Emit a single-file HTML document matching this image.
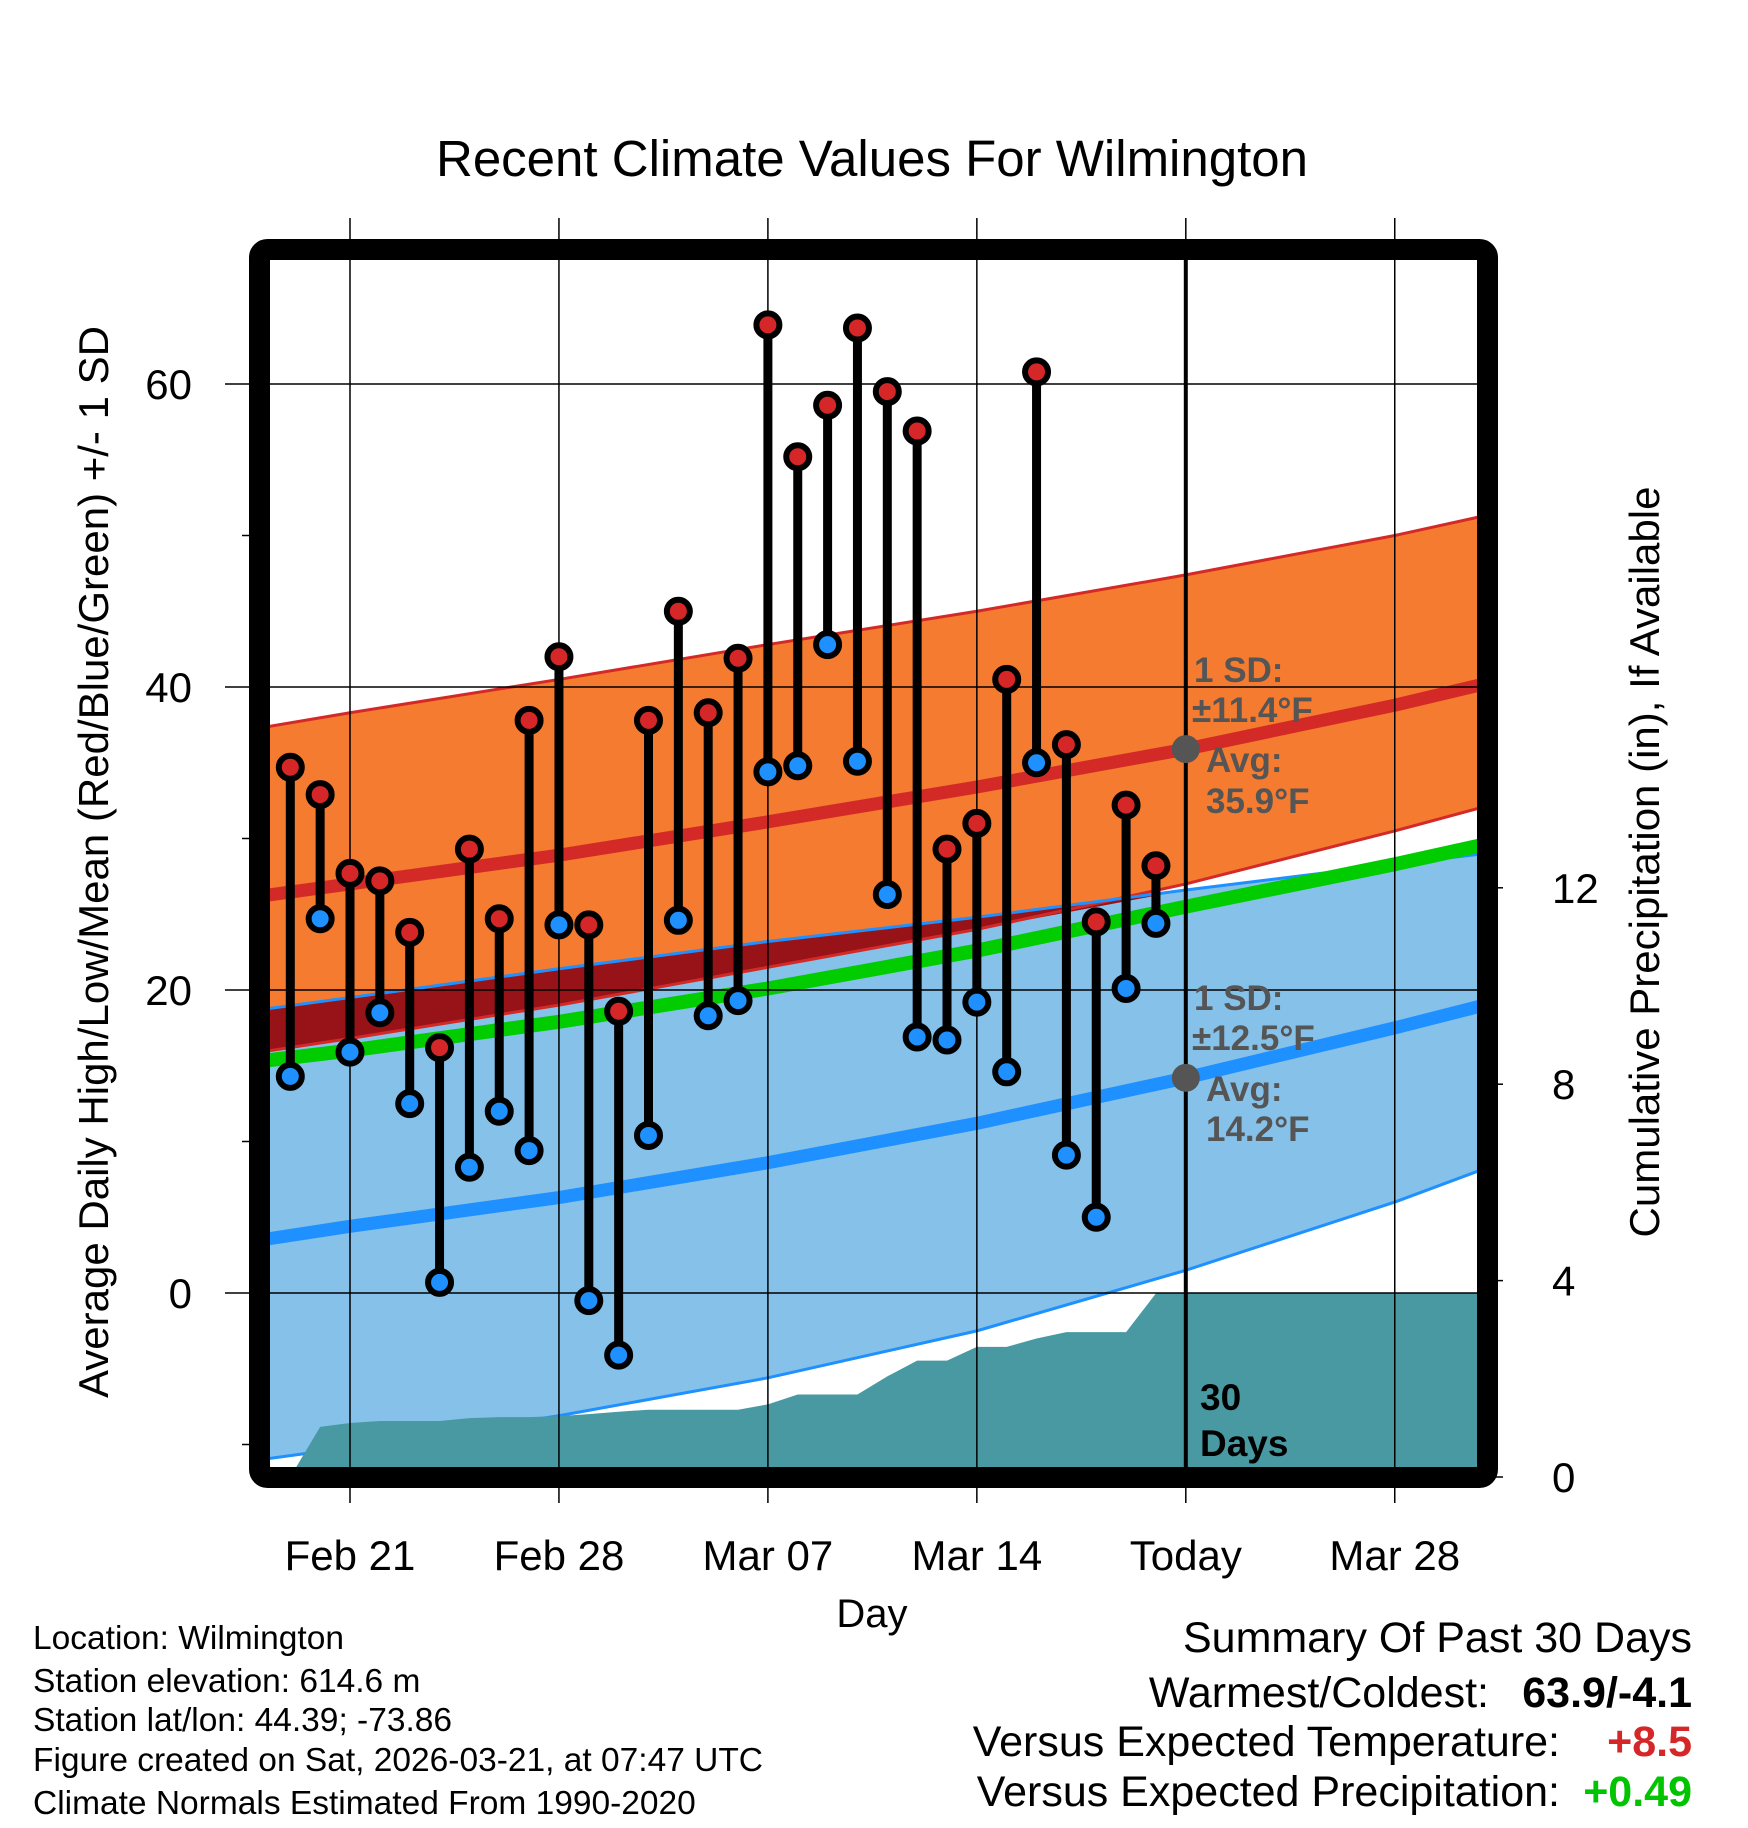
<!DOCTYPE html>
<html><head><meta charset="utf-8"><style>
html,body{margin:0;padding:0;background:#fff;}
svg{display:block;font-family:"Liberation Sans",Arial,sans-serif;}
</style></head><body>
<svg id="chart" width="1748" height="1828" viewBox="0 0 1748 1828" xmlns="http://www.w3.org/2000/svg">
<defs><clipPath id="plotclip"><rect x="270" y="260" width="1208" height="1208"/></clipPath></defs>
<text x="872" y="176" font-size="51" text-anchor="middle">Recent Climate Values For Wilmington</text>
<g id="bands" clip-path="url(#plotclip)"></g>
<g id="grid"></g>
<g id="marks"></g>
<rect x="259.5" y="249.5" width="1228" height="1228" rx="8" fill="none" stroke="#000" stroke-width="21"/>
<g id="axes"></g>
<g id="ann" font-weight="bold" fill="#555" font-size="35">
<text x="1194" y="682">1 SD:</text>
<text x="1192" y="722">±11.4°F</text>
<text x="1206" y="772">Avg:</text>
<text x="1206" y="813">35.9°F</text>
<text x="1194" y="1010">1 SD:</text>
<text x="1192" y="1050">±12.5°F</text>
<text x="1206" y="1101">Avg:</text>
<text x="1206" y="1141">14.2°F</text>
</g>
<text x="1200" y="1410" font-size="37" font-weight="bold">30</text>
<text x="1200" y="1456" font-size="37" font-weight="bold">Days</text>
<text x="872" y="1627" font-size="40" text-anchor="middle">Day</text>
<text transform="translate(108,862) rotate(-90)" font-size="42" text-anchor="middle">Average Daily High/Low/Mean (Red/Blue/Green) +/- 1 SD</text>
<text transform="translate(1659,862) rotate(-90)" font-size="42" text-anchor="middle">Cumulative Precipitation (in), If Available</text>
<g font-size="33.5">
<text x="33" y="1649">Location: Wilmington</text>
<text x="33" y="1692">Station elevation: 614.6 m</text>
<text x="33" y="1731">Station lat/lon: 44.39; -73.86</text>
<text x="33" y="1771">Figure created on Sat, 2026-03-21, at 07:47 UTC</text>
<text x="33" y="1814">Climate Normals Estimated From 1990-2020</text>
</g>
<g font-size="43">
<text x="1692" y="1652" text-anchor="end">Summary Of Past 30 Days</text>
<text x="1489" y="1707" text-anchor="end">Warmest/Coldest:</text>
<text x="1692" y="1707" text-anchor="end" font-weight="bold">63.9/-4.1</text>
<text x="1560" y="1756" text-anchor="end">Versus Expected Temperature:</text>
<text x="1692" y="1756" text-anchor="end" font-weight="bold" fill="#d62728">+8.5</text>
<text x="1560" y="1806" text-anchor="end">Versus Expected Precipitation:</text>
<text x="1692" y="1806" text-anchor="end" font-weight="bold" fill="#00c400">+0.49</text>
</g>
</svg>
<script>
// Daily observations (day 0 = Feb 21)
const obsDays = [-2,-1,0,1,2,3,4,5,6,7,8,9,10,11,12,13,14,15,16,17,18,19,20,21,22,23,24,25,26,27];
const highs = [34.7,32.9,27.7,27.2,23.8,16.2,29.3,24.7,37.8,42.0,24.3,18.6,37.8,45.0,38.3,41.9,63.9,55.2,58.6,63.7,59.5,56.9,29.3,31.0,40.5,60.8,36.2,24.5,32.2,28.2];
const lows = [14.3,24.7,15.9,18.5,12.5,0.7,8.3,12.0,9.4,24.3,-0.5,-4.1,10.4,24.6,18.3,19.3,34.4,34.8,42.8,35.1,26.3,16.9,16.7,19.2,14.6,35.0,9.1,5.0,20.1,24.4];
const precipCum = [0,1.02,1.10,1.14,1.14,1.14,1.20,1.22,1.22,1.24,1.28,1.33,1.37,1.37,1.37,1.37,1.48,1.68,1.68,1.68,2.05,2.37,2.37,2.65,2.65,2.82,2.95,2.95,2.95,3.74];
// Normals
const normDays = [-3,0,7,14,21,28,35,38];
const hiUpper = [37.3,38.3,40.5,42.8,45.0,47.4,50.0,51.3];
const hiMean = [26.2,27.0,28.9,31.1,33.4,35.9,38.8,40.2];
const hiLower = [15.9,16.8,19.0,21.5,24.0,27.0,30.5,32.1];
const loUpper = [18.7,19.5,21.4,23.2,24.8,26.6,28.3,29.0];
const meanNorm = [15.3,16.0,17.9,20.1,22.6,25.5,28.3,29.6];
const loMean = [3.5,4.4,6.3,8.6,11.2,14.2,17.5,19.0];
const loLower = [-11.0,-10.2,-8.1,-5.6,-2.5,1.5,6.0,8.2];
const xTickDays = [0,7,14,21,28,35];
const xTickLabels = ["Feb 21","Feb 28","Mar 07","Mar 14","Today","Mar 28"];
const yTicks = [0,20,40,60];
const yMinor = [-10,10,30,50];
const pTicks = [0,4,8,12];
const todayDay = 28;

const NS="http://www.w3.org/2000/svg";
const X = d => 350 + d*29.85;
const Y = t => 1293 - t*15.15;
const P = v => 1477 - v*49.1;
function mk(tag, attrs, parent){const e=document.createElementNS(NS,tag);for(const k in attrs)e.setAttribute(k,attrs[k]);parent.appendChild(e);return e;}
const bands=document.getElementById('bands'), grid=document.getElementById('grid'), marks=document.getElementById('marks'), axes=document.getElementById('axes');
function pts(arr){return normDays.map((d,i)=>X(d)+','+Y(arr[i]));}
function band(up,low,fill,name){
  const p=pts(up).concat(pts(low).reverse()).join(' ');
  const e=mk('polygon',{points:p,fill:fill},bands);
  
  
  return e;
}
function line(arr,stroke,w,name){
  const e=mk('polyline',{points:pts(arr).join(' '),fill:'none',stroke:stroke,'stroke-width':w},bands);
  
  
}
band(hiUpper,hiLower,'#f47b2f','high-sd-band');
band(loUpper,loLower,'#85c1e9','low-sd-band');
band(loUpper.map((v,i)=>Math.max(v,Math.min(hiLower[i],v))),hiLower.map((v,i)=>Math.min(v,loUpper[i])),'#981318','overlap-band');
line(hiUpper,'#d42a27',3,'high-upper-edge');
line(hiLower,'#d42a27',3,'high-lower-edge');
line(loUpper,'#1e90ff',3,'low-upper-edge');
line(loLower,'#1e90ff',3,'low-lower-edge');
line(hiMean,'#d42a27',13,'high-mean-line');
line(loMean,'#1e90ff',13,'low-mean-line');
line(meanNorm,'#00cc00',14,'mean-line');
// precip area
let pp=[X(obsDays[0])+','+P(0)];
obsDays.forEach((d,i)=>pp.push(X(d)+','+P(precipCum[i])));
pp.push(X(38)+','+P(precipCum[precipCum.length-1]));
pp.push(X(38)+','+P(0));
const pa=mk('polygon',{points:pp.join(' '),fill:'#4899a2'},bands);


// grid
xTickDays.forEach((d,i)=>{
  const g=mk('line',{x1:X(d),x2:X(d),y1:218,y2:1503,stroke:'#000','stroke-width':1.5},grid);
  
  
  const t=mk('text',{x:X(d),y:1570,'font-size':42,'text-anchor':'middle'},axes);
  t.textContent=xTickLabels[i];
  
  
});
yTicks.forEach(v=>{
  const g=mk('line',{x1:225,x2:1478,y1:Y(v),y2:Y(v),stroke:'#000','stroke-width':1.5},grid);
  
  
  const t=mk('text',{x:192,y:Y(v)+15,'font-size':42,'text-anchor':'end'},axes);
  t.textContent=v;
  
  
});
yMinor.forEach(v=>{
  const g=mk('line',{x1:242,x2:256,y1:Y(v),y2:Y(v),stroke:'#000','stroke-width':1.5},axes);
  
  
});
pTicks.forEach(v=>{
  const g=mk('line',{x1:1490,x2:1503,y1:P(v),y2:P(v),stroke:'#000','stroke-width':1.5},axes);
  
  
  const t=mk('text',{x:1552,y:P(v)+15,'font-size':42},axes);
  t.textContent=v;
  
  
});
// today line
const tl=mk('line',{x1:X(todayDay),x2:X(todayDay),y1:260,y2:1468,stroke:'#000','stroke-width':4},grid);


// daily bars and dots
obsDays.forEach((d,i)=>{
  const b=mk('line',{x1:X(d),x2:X(d),y1:Y(highs[i]),y2:Y(lows[i]),stroke:'#000','stroke-width':9},marks);
  
  
});
obsDays.forEach((d,i)=>{
  const h=mk('circle',{cx:X(d),cy:Y(highs[i]),r:11.5,fill:'#d62728',stroke:'#000','stroke-width':6},marks);
  
  
  const l=mk('circle',{cx:X(d),cy:Y(lows[i]),r:11.5,fill:'#1e90ff',stroke:'#000','stroke-width':6},marks);
  
  
});
[hiMean,loMean].forEach(arr=>{
  const i=normDays.indexOf(todayDay);
  const c=mk('circle',{cx:X(todayDay),cy:Y(arr[i]),r:14,fill:'#555'},marks);
  
  
});
</script>
</body></html>
